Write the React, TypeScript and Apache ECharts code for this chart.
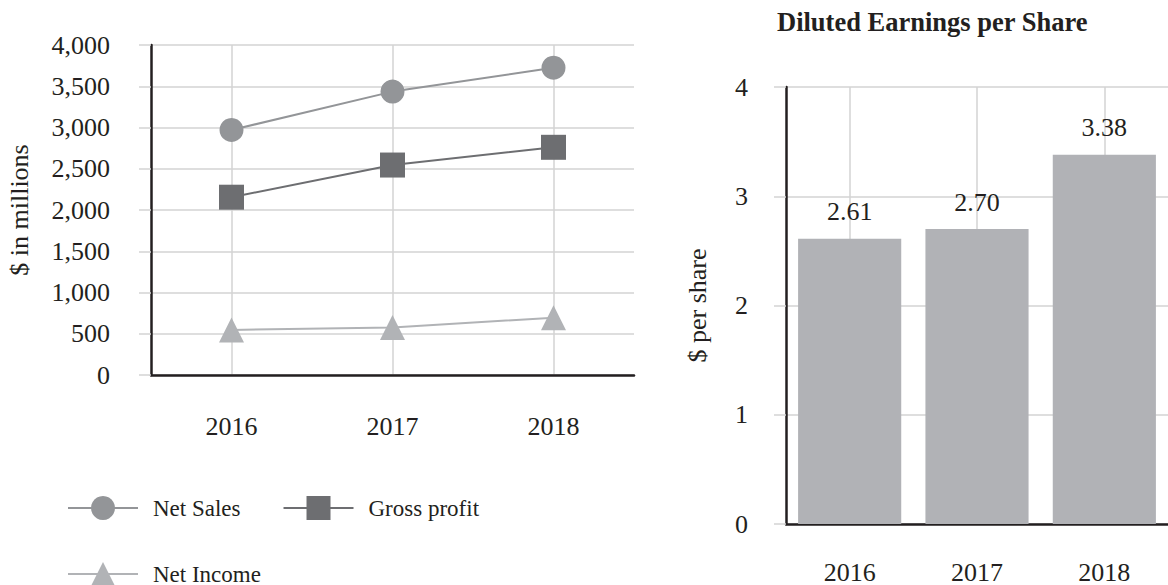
import React, { useEffect, useRef } from "react";
import * as echarts from "echarts";

const years = ["2016", "2017", "2018"];
const netSales = [2970, 3435, 3725];
const grossProfit = [2155, 2545, 2760];
const netIncome = [546, 575, 695];
const epsValues = [2.61, 2.7, 3.38];

const FONT = "Liberation Serif";
const DARK = "#231f20";
const GRID = "#d3d3d3";

export default function App() {
  const ref = useRef<HTMLDivElement>(null);
  useEffect(() => {
    if (!ref.current) return;
    const chart = echarts.init(ref.current, null, { renderer: "svg" });
    const axisLabel = { color: DARK, fontFamily: FONT, fontSize: 26 };
    chart.setOption({
      animation: false,
      textStyle: { fontFamily: FONT, color: DARK },
      title: {
        text: "Diluted Earnings per Share",
        left: 777,
        top: 8,
        padding: 0,
        textStyle: { fontFamily: FONT, fontSize: 26.5, fontWeight: "bold", color: DARK },
      },
      legend: {
        left: 67,
        top: 496,
        padding: 0,
        width: 450,
        itemWidth: 70,
        itemHeight: 30,
        itemGap: 42,
        textStyle: { fontFamily: FONT, fontSize: 23, color: DARK, padding: [0, 0, 0, 10] },
        data: ["Net Sales", "Gross profit", "Net Income"],
      },
      grid: [
        { left: 151, top: 45, right: 534, bottom: 210 },
        { left: 786, top: 87, right: -2, bottom: 60 },
      ],
      xAxis: [
        {
          type: "category",
          gridIndex: 0,
          data: years,
          axisLine: { lineStyle: { color: DARK, width: 2.5 } },
          axisTick: { alignWithLabel: true, length: 12, lineStyle: { color: GRID, width: 1.5 } },
          axisLabel: { ...axisLabel, margin: 38 },
          splitLine: { show: true, alignWithLabel: true, lineStyle: { color: GRID, width: 1.5 } },
        },
        {
          type: "category",
          gridIndex: 1,
          data: years,
          axisLine: { lineStyle: { color: DARK, width: 2.5 } },
          axisTick: { alignWithLabel: true, length: 12, lineStyle: { color: GRID, width: 1.5 } },
          axisLabel: { ...axisLabel, margin: 35 },
          splitLine: { show: true, alignWithLabel: true, lineStyle: { color: GRID, width: 1.5 } },
        },
      ],
      yAxis: [
        {
          type: "value",
          gridIndex: 0,
          min: 0,
          max: 4000,
          interval: 500,
          name: "$ in millions",
          nameLocation: "middle",
          nameGap: 119,
          nameTextStyle: { fontFamily: FONT, fontSize: 26, color: DARK },
          axisLine: { show: true, lineStyle: { color: DARK, width: 2.5 } },
          axisTick: { show: true, length: 12, lineStyle: { color: GRID, width: 1.5 } },
          axisLabel: {
            ...axisLabel,
            margin: 41,
            formatter: (v: number) => v.toLocaleString("en-US"),
          },
          splitLine: { show: true, lineStyle: { color: GRID, width: 1.5 } },
        },
        {
          type: "value",
          gridIndex: 1,
          min: 0,
          max: 4,
          interval: 1,
          name: "$ per share",
          nameLocation: "middle",
          nameGap: 76,
          nameTextStyle: { fontFamily: FONT, fontSize: 26, color: DARK },
          axisLine: { show: true, lineStyle: { color: DARK, width: 2.5 } },
          axisTick: { show: true, length: 12, lineStyle: { color: GRID, width: 1.5 } },
          axisLabel: { ...axisLabel, margin: 38 },
          splitLine: { show: true, lineStyle: { color: GRID, width: 1.5 } },
        },
      ],
      series: [
        {
          name: "Net Sales",
          type: "line",
          xAxisIndex: 0,
          yAxisIndex: 0,
          data: netSales,
          symbol: "circle",
          symbolSize: 24,
          itemStyle: { color: "#939598" },
          lineStyle: { color: "#939598", width: 2 },
        },
        {
          name: "Gross profit",
          type: "line",
          xAxisIndex: 0,
          yAxisIndex: 0,
          data: grossProfit,
          symbol: "rect",
          symbolSize: 25,
          itemStyle: { color: "#6d6e71" },
          lineStyle: { color: "#6d6e71", width: 2 },
        },
        {
          name: "Net Income",
          type: "line",
          xAxisIndex: 0,
          yAxisIndex: 0,
          data: netIncome,
          symbol: "triangle",
          symbolSize: 25,
          itemStyle: { color: "#b1b3b6" },
          lineStyle: { color: "#b1b3b6", width: 2 },
        },
        {
          name: "EPS",
          type: "bar",
          xAxisIndex: 1,
          yAxisIndex: 1,
          data: epsValues,
          barCategoryGap: "19%",
          itemStyle: { color: "#b1b2b6" },
          label: {
            show: true,
            position: "top",
            distance: 14,
            fontFamily: FONT,
            fontSize: 26,
            color: DARK,
            formatter: (p: any) => Number(p.value).toFixed(2),
          },
        },
      ],
    });
    return () => chart.dispose();
  }, []);
  return (
    <div
      ref={ref}
      style={{ position: "fixed", left: 0, top: 0, width: 1168, height: 585, background: "#fff" }}
    />
  );
}
